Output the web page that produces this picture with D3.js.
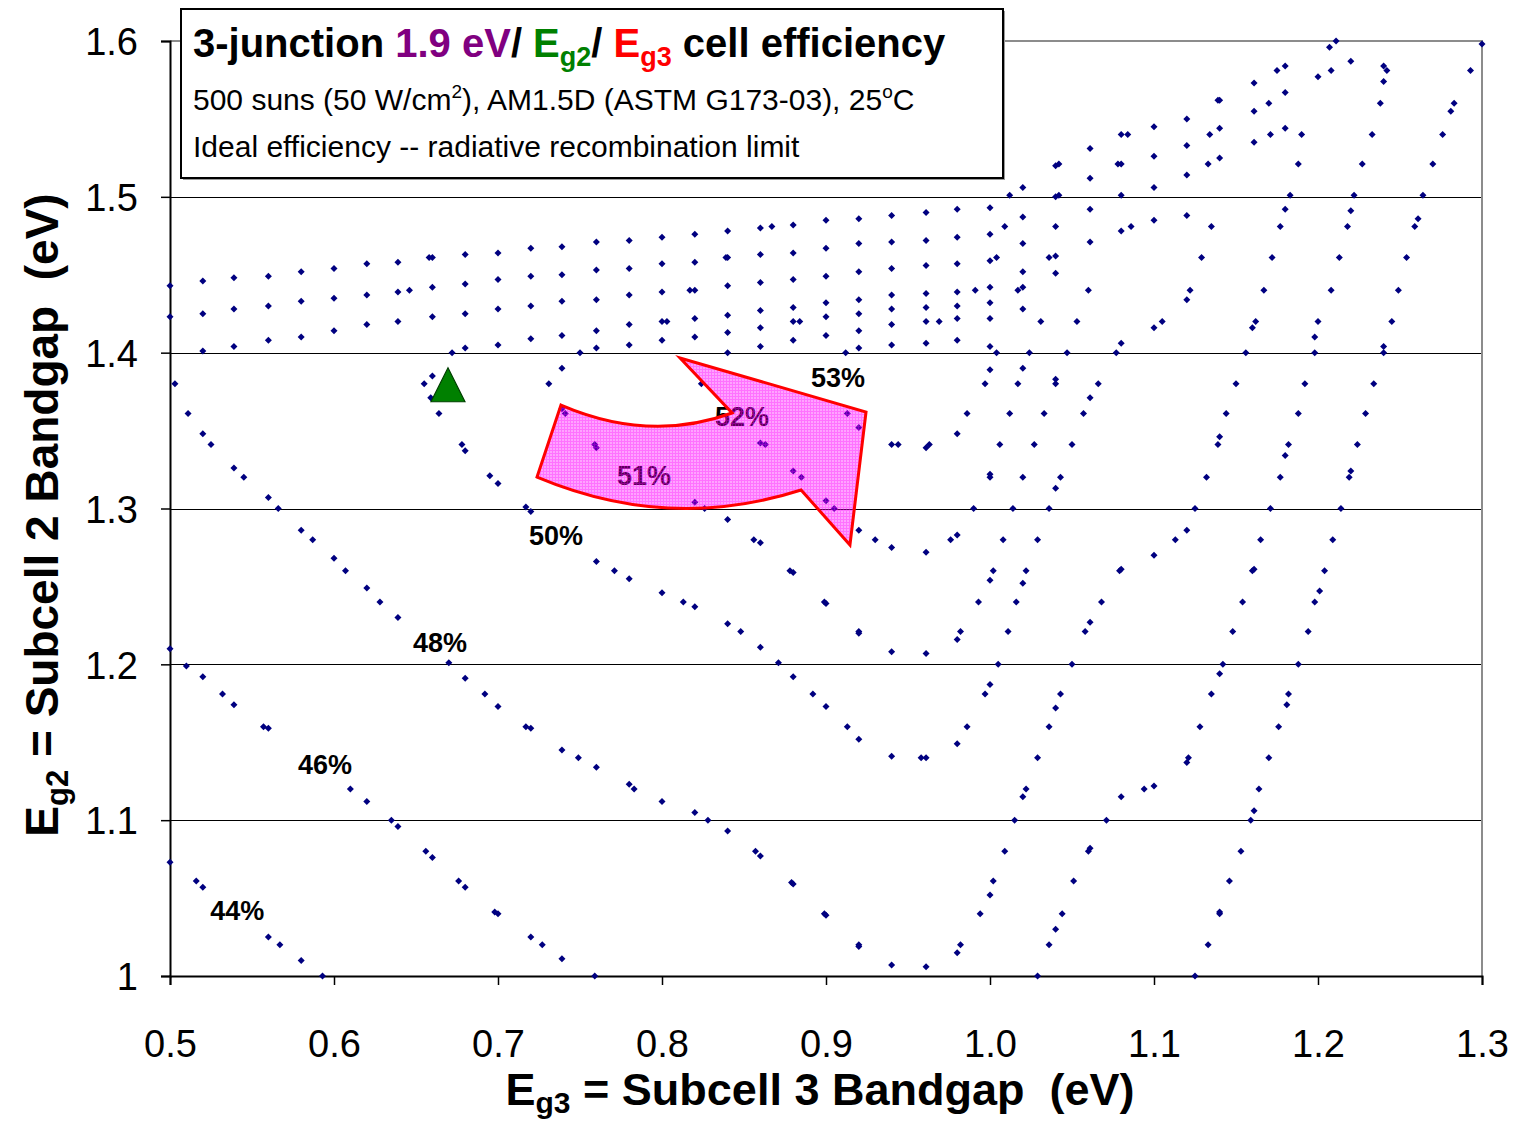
<!DOCTYPE html>
<html>
<head>
<meta charset="utf-8">
<script src="https://cdn.jsdelivr.net/npm/d3@7"></script>
<style>
  body { margin: 0; background: #fff; }
  svg { display: block; }
  text { font-family: "Liberation Sans", Arial, Helvetica, sans-serif; }
</style>
</head>
<body>
<svg id="chart" width="1516" height="1122"></svg>
<script>
// Axis ticks
const xTicks = [0.5, 0.6, 0.7, 0.8, 0.9, 1.0, 1.1, 1.2, 1.3];
const xTickLabels = ["0.5", "0.6", "0.7", "0.8", "0.9", "1.0", "1.1", "1.2", "1.3"];
const yTicks = [1.0, 1.1, 1.2, 1.3, 1.4, 1.5, 1.6];
const yTickLabels = ["1", "1.1", "1.2", "1.3", "1.4", "1.5", "1.6"];

// Iso-efficiency contour points [Eg3, Eg2] in eV
const eff44 = [
  [0.5,1.073],[0.516,1.061],[0.52,1.057],[0.56,1.025],[0.567,1.02],[0.58,1.01],[0.593,1.0],
  [1.125,1.0],[1.133,1.02],[1.14,1.04],[1.14,1.041],[1.146,1.061],[1.153,1.08],[1.159,1.1],[1.161,1.106],
  [1.164,1.12],[1.17,1.14],[1.176,1.16],[1.181,1.174],[1.182,1.181],[1.188,1.2],[1.194,1.221],[1.198,1.24],
  [1.201,1.247],[1.204,1.26],[1.209,1.28],[1.214,1.3],[1.219,1.32],[1.22,1.324],[1.224,1.341],[1.229,1.361],
  [1.234,1.38],[1.24,1.4],[1.24,1.404],[1.245,1.42],[1.249,1.44],[1.254,1.461],[1.259,1.481],[1.261,1.486],
  [1.264,1.501],[1.27,1.521],[1.276,1.54],[1.281,1.555],[1.283,1.56],[1.293,1.581],[1.3,1.598],
  [0.5,1.443],[0.52,1.446],[0.539,1.448],[0.56,1.449],[0.58,1.452],[0.6,1.454],[0.62,1.457],[0.639,1.458],
  [0.658,1.461],[0.66,1.461],[0.68,1.463],[0.7,1.464],[0.72,1.467],[0.739,1.468],[0.76,1.471],[0.78,1.472],
  [0.8,1.474],[0.82,1.476],[0.84,1.478],[0.86,1.48],[0.867,1.481],[0.88,1.482],[0.9,1.485],[0.92,1.486],
  [0.94,1.488],[0.961,1.49],[0.98,1.492],[1.0,1.493],[1.012,1.501],[1.02,1.506],[1.04,1.52],[1.042,1.521],
  [1.061,1.531],[1.08,1.54],[1.084,1.54],[1.1,1.545],[1.12,1.55],[1.139,1.562],[1.14,1.562],[1.161,1.573],
  [1.175,1.581],[1.18,1.584],[1.207,1.596],[1.211,1.6]
];
const eff46 = [
  [0.5,1.21],[0.51,1.199],[0.52,1.192],[0.532,1.181],[0.539,1.174],[0.557,1.16],[0.56,1.159],[0.61,1.12],
  [0.62,1.112],[0.635,1.1],[0.639,1.096],[0.656,1.08],[0.66,1.076],[0.676,1.061],[0.68,1.057],[0.698,1.041],
  [0.7,1.04],[0.72,1.025],[0.727,1.02],[0.739,1.011],[0.759,1.0],
  [1.029,1.0],[1.036,1.02],[1.04,1.03],[1.044,1.04],[1.051,1.061],[1.06,1.08],[1.061,1.082],[1.071,1.1],
  [1.08,1.115],[1.094,1.12],[1.1,1.122],[1.12,1.137],[1.121,1.14],[1.128,1.16],[1.135,1.181],[1.14,1.194],
  [1.142,1.2],[1.148,1.221],[1.154,1.24],[1.16,1.26],[1.161,1.261],[1.165,1.28],[1.171,1.3],[1.177,1.32],
  [1.18,1.334],[1.182,1.341],[1.188,1.361],[1.192,1.38],[1.198,1.4],[1.198,1.41],[1.2,1.42],[1.208,1.44],
  [1.213,1.461],[1.218,1.481],[1.22,1.491],[1.222,1.501],[1.227,1.521],[1.233,1.54],[1.238,1.56],[1.24,1.574],
  [1.242,1.581],[1.24,1.584],[1.22,1.587],
  [1.208,1.581],[1.2,1.577],[1.18,1.567],[1.17,1.56],[1.161,1.555],[1.14,1.544],[1.134,1.54],[1.12,1.533],
  [1.1,1.526],[1.08,1.521],[1.078,1.521],[1.061,1.512],[1.042,1.501],[1.04,1.5],[1.02,1.487],[1.009,1.481],
  [1.0,1.476],[0.98,1.474],[0.961,1.472],[0.94,1.471],[0.92,1.47],[0.9,1.467],[0.88,1.464],[0.86,1.463],
  [0.84,1.461],[0.839,1.461],[0.82,1.458],[0.8,1.457],[0.78,1.454],[0.76,1.453],[0.739,1.45],[0.72,1.449],
  [0.7,1.447],[0.68,1.444],[0.66,1.442],[0.646,1.44],[0.639,1.439],[0.62,1.437],[0.6,1.435],[0.58,1.433],
  [0.56,1.43],[0.539,1.428],[0.52,1.425],[0.5,1.423]
];
const eff48 = [
  [0.503,1.38],[0.511,1.361],[0.52,1.348],[0.525,1.341],[0.539,1.326],[0.545,1.32],[0.56,1.307],[0.566,1.3],
  [0.58,1.286],[0.587,1.28],[0.6,1.268],[0.607,1.26],[0.62,1.249],[0.628,1.24],[0.639,1.23],[0.67,1.201],
  [0.68,1.191],[0.692,1.181],[0.7,1.173],[0.717,1.16],[0.72,1.159],[0.739,1.145],[0.749,1.14],[0.76,1.134],
  [0.78,1.123],[0.783,1.12],[0.8,1.112],[0.82,1.105],[0.828,1.1],[0.84,1.093],[0.857,1.08],[0.86,1.077],
  [0.879,1.06],[0.88,1.059],[0.899,1.04],[0.9,1.039],[0.92,1.02],[0.92,1.019],[0.94,1.007],[0.961,1.006],
  [0.98,1.015],[0.982,1.02],[0.994,1.04],[1.0,1.052],[1.002,1.061],[1.009,1.08],[1.015,1.1],[1.02,1.115],
  [1.022,1.12],[1.029,1.14],[1.036,1.16],[1.04,1.172],[1.043,1.181],[1.05,1.2],[1.058,1.221],[1.061,1.227],
  [1.068,1.24],[1.079,1.26],[1.08,1.261],[1.1,1.27],[1.113,1.28],[1.12,1.286],[1.125,1.3],[1.132,1.32],
  [1.139,1.341],[1.14,1.346],[1.144,1.361],[1.15,1.38],[1.156,1.4],[1.16,1.416],[1.162,1.42],[1.167,1.44],
  [1.172,1.461],[1.177,1.481],[1.18,1.492],[1.183,1.501],[1.188,1.521],[1.19,1.54],[1.18,1.544],[1.171,1.54],
  [1.161,1.535],[1.14,1.525],[1.133,1.521],[1.12,1.514],[1.1,1.506],[1.08,1.501],[1.061,1.492],[1.04,1.481],
  [1.02,1.47],[1.004,1.461],[1.0,1.459],[0.98,1.457],[0.961,1.456],[0.94,1.454],[0.92,1.452],[0.9,1.449],
  [0.88,1.447],[0.86,1.445],[0.84,1.443],[0.82,1.44],[0.817,1.44],[0.8,1.439],[0.78,1.437],[0.76,1.434],
  [0.739,1.433],[0.72,1.43],[0.7,1.428],[0.68,1.425],[0.66,1.423],[0.639,1.42],[0.62,1.418],[0.6,1.414],
  [0.58,1.41],[0.56,1.408],[0.539,1.404],[0.52,1.401]
];
const eff50 = [
  [0.655,1.38],[0.659,1.371],[0.664,1.361],[0.678,1.341],[0.68,1.337],[0.695,1.321],[0.7,1.316],[0.717,1.301],
  [0.72,1.298],[0.76,1.266],[0.771,1.26],[0.78,1.255],[0.8,1.246],[0.813,1.24],[0.82,1.237],[0.84,1.226],
  [0.848,1.221],[0.86,1.211],[0.871,1.201],[0.88,1.192],[0.892,1.181],[0.9,1.173],[0.913,1.16],[0.92,1.152],
  [0.94,1.141],[0.958,1.14],[0.961,1.14],[0.98,1.149],[0.986,1.16],[0.997,1.181],[1.0,1.187],[1.005,1.2],
  [1.011,1.221],[1.016,1.24],[1.02,1.252],[1.022,1.26],[1.029,1.28],[1.036,1.3],[1.04,1.313],[1.043,1.32],
  [1.05,1.341],[1.057,1.361],[1.061,1.371],[1.066,1.38],[1.077,1.4],[1.08,1.406],[1.1,1.416],[1.105,1.42],
  [1.12,1.434],[1.122,1.44],[1.129,1.461],[1.135,1.481],[1.12,1.488],[1.1,1.485],[1.086,1.481],[1.08,1.478],
  [1.061,1.471],[1.04,1.462],[1.036,1.461],[1.02,1.452],[1.0,1.442],[0.991,1.44],[0.98,1.439],[0.961,1.438],
  [0.94,1.437],[0.92,1.434],[0.9,1.432],[0.88,1.429],[0.86,1.427],[0.84,1.424],[0.82,1.422],[0.803,1.42],
  [0.8,1.42],[0.78,1.418],[0.76,1.414],[0.739,1.411],[0.72,1.409],[0.7,1.405],[0.68,1.403],[0.672,1.4],
  [0.66,1.385]
];
const eff51 = [
  [0.731,1.38],[0.739,1.39],[0.75,1.4],[0.76,1.403],[0.78,1.405],[0.8,1.408],[0.82,1.41],[0.84,1.413],
  [0.86,1.416],[0.88,1.42],[0.884,1.42],[0.9,1.423],[0.92,1.425],[0.94,1.428],[0.961,1.429],[0.98,1.43],
  [1.0,1.432],[1.017,1.44],[1.02,1.442],[1.04,1.451],[1.06,1.44],[1.053,1.42],[1.047,1.4],[1.04,1.383],
  [1.04,1.38],[1.033,1.361],[1.027,1.341],[1.02,1.32],[1.014,1.3],[1.008,1.28],[1.002,1.26],[1.0,1.254],
  [0.993,1.24],[0.982,1.221],[0.98,1.216],[0.961,1.207],[0.94,1.208],[0.92,1.22],[0.92,1.221],[0.9,1.239],
  [0.899,1.24],[0.88,1.259],[0.878,1.26],[0.86,1.278],[0.856,1.28],[0.84,1.293],[0.826,1.3],[0.82,1.304],
  [0.76,1.339],[0.759,1.341],[0.741,1.361],[0.739,1.364]
];
const eff52 = [
  [0.824,1.38],[0.84,1.4],[0.86,1.404],[0.88,1.408],[0.9,1.411],[0.92,1.414],[0.94,1.418],[0.961,1.42],
  [0.969,1.42],[0.98,1.422],[1.0,1.422],[1.02,1.428],[1.031,1.42],[1.024,1.4],[1.02,1.39],[1.017,1.38],
  [1.012,1.361],[1.006,1.341],[1.0,1.322],[1.0,1.32],[0.99,1.3],[0.98,1.283],[0.976,1.28],[0.961,1.272],
  [0.94,1.275],[0.93,1.28],[0.92,1.286],[0.905,1.3],[0.9,1.305],[0.885,1.32],[0.88,1.324],[0.863,1.341],
  [0.86,1.342]
];
const eff53 = [
  [0.912,1.4],[0.92,1.403],[0.94,1.405],[0.961,1.406],[0.98,1.408],[1.0,1.404],[1.004,1.4],[1.0,1.389],
  [0.997,1.38],[0.986,1.361],[0.98,1.348],[0.963,1.341],[0.961,1.339],[0.944,1.341],[0.94,1.341],[0.92,1.352],
  [0.913,1.361]
];

// Contour labels: text and anchor point [Eg3, Eg2]
const contourLabels = ["44%", "46%", "48%", "50%", "51%", "52%", "53%"];
const contourLabelPos = [[0.541,1.042],[0.5945,1.136],[0.6646,1.214],[0.7354,1.283],[0.789,1.321],[0.8488,1.359],[0.9073,1.384]];

// Design point (triangle) [Eg3, Eg2]
const designPoint = [0.6695, 1.3762];

// Direction-of-improvement arrow outline [Eg3, Eg2]; "Q" entries are quadratic control points
const arrowOutline = [
  ["M", 0.7238, 1.3202],
  ["L", 0.7384, 1.3664],
  ["Q", 0.7924, 1.342, 0.8427, 1.3613],
  ["L", 0.811, 1.3966],
  ["L", 0.9244, 1.3619],
  ["L", 0.9146, 1.2766],
  ["L", 0.8848, 1.3119],
  ["Q", 0.8043, 1.2846, 0.7238, 1.3202]
];

const W = 1516, H = 1122;
const svg = d3.select("#chart");
svg.append("rect").attr("width", W).attr("height", H).attr("fill", "#fff");

const x = d3.scaleLinear().domain([0.5, 1.3]).range([170, 1482]);
const y = d3.scaleLinear().domain([1.0, 1.6]).range([976, 41]);

// translucent magenta grid pattern for the arrow fill
const defs = svg.append("defs");
const pat = defs.append("pattern").attr("id", "grid").attr("patternUnits", "userSpaceOnUse")
  .attr("width", 3).attr("height", 3);
pat.append("rect").attr("width", 3).attr("height", 3).attr("fill", "#ff00ff").attr("fill-opacity", 0.36);
pat.append("path").attr("d", "M0,0.5H3M0.5,1V3").attr("stroke", "#ff00ff").attr("stroke-opacity", 0.3).attr("stroke-width", 1);

// gridlines
const g = svg.append("g");
g.selectAll("line.grid").data(yTicks.filter(v => v > 1.0 && v < 1.6)).join("line")
  .attr("class", "grid")
  .attr("x1", x(0.5)).attr("x2", x(1.3))
  .attr("y1", d => Math.round(y(d)) + 0.5).attr("y2", d => Math.round(y(d)) + 0.5)
  .attr("stroke", "#000").attr("stroke-width", 1);

// plot frame: grey top/right, black axes
g.append("path")
  .attr("d", `M${x(0.5)},${y(1.6)}H${x(1.3)}V${y(1.0)}`)
  .attr("fill", "none").attr("stroke", "#8c8c8c").attr("stroke-width", 2);

// axes
const xAxis = d3.axisBottom(x).tickValues(xTicks).tickSize(9).tickFormat((d, i) => xTickLabels[i]);
const yAxis = d3.axisLeft(y).tickValues(yTicks).tickSize(9).tickFormat((d, i) => yTickLabels[i]);

const gx = svg.append("g").attr("transform", `translate(0,${y(1.0)})`).call(xAxis);
const gy = svg.append("g").attr("transform", `translate(${x(0.5)},0)`).call(yAxis);
[gx, gy].forEach(a => {
  a.select(".domain").attr("stroke", "#000").attr("stroke-width", 2);
  a.selectAll(".tick line").attr("stroke", "#000").attr("stroke-width", 1.5);
  a.selectAll(".tick text").attr("fill", "#000").style("font-size", "38px")
    .style("font-family", '"Liberation Sans", Arial, sans-serif');
});
gx.selectAll(".tick text").attr("dy", "0").attr("y", 81);
gy.selectAll(".tick text").attr("x", -32).attr("dy", "0.36em");

// contour dots
const diamond = { draw(ctx, size) { const r = Math.sqrt(size) / 2; ctx.moveTo(0, -r); ctx.lineTo(r, 0); ctx.lineTo(0, r); ctx.lineTo(-r, 0); ctx.closePath(); } };
const series = [eff44, eff46, eff48, eff50, eff51, eff52, eff53];
const dots = svg.append("g");
series.forEach(s => {
  dots.append("g").selectAll("path").data(s).join("path")
    .attr("transform", d => `translate(${x(d[0])},${y(d[1])})`)
    .attr("d", d3.symbol(diamond, 49))
    .attr("fill", "#000080");
});

// contour labels
svg.append("g").selectAll("text").data(contourLabels).join("text")
  .attr("x", (d, i) => x(contourLabelPos[i][0]))
  .attr("y", (d, i) => y(contourLabelPos[i][1]))
  .attr("dy", "0.36em")
  .attr("text-anchor", "middle")
  .style("font-size", "27px").style("font-weight", "bold")
  .attr("fill", "#000")
  .text(d => d);

// design point triangle
const tx = x(designPoint[0]), ty = y(designPoint[1]);
svg.append("path")
  .attr("d", `M${tx},${ty - 22}L${tx + 17},${ty + 12}L${tx - 17},${ty + 12}Z`)
  .attr("fill", "#008000").attr("stroke", "#004000").attr("stroke-width", 1.2);

// arrow
const ap = d3.path();
arrowOutline.forEach(c => {
  if (c[0] === "M") ap.moveTo(x(c[1]), y(c[2]));
  else if (c[0] === "L") ap.lineTo(x(c[1]), y(c[2]));
  else ap.quadraticCurveTo(x(c[1]), y(c[2]), x(c[3]), y(c[4]));
});
ap.closePath();
svg.append("path").attr("d", ap.toString())
  .attr("fill", "url(#grid)")
  .attr("stroke", "#ff0000").attr("stroke-width", 3).attr("stroke-linejoin", "miter");

// axis titles
const xt = svg.append("text").attr("x", 820).attr("y", 1105).attr("text-anchor", "middle")
  .style("font-size", "45px").style("font-weight", "bold");
xt.append("tspan").text("E");
xt.append("tspan").attr("dy", 8).style("font-size", "30px").text("g3");
xt.append("tspan").attr("dy", -8).text(" = Subcell 3 Bandgap\u00a0 (eV)");

const yt = svg.append("text").attr("transform", "translate(58,515) rotate(-90)").attr("text-anchor", "middle")
  .style("font-size", "46px").style("font-weight", "bold");
yt.append("tspan").text("E");
yt.append("tspan").attr("dy", 10).style("font-size", "31px").text("g2");
yt.append("tspan").attr("dy", -10).text(" = Subcell 2 Bandgap\u00a0 (eV)");

// title box
svg.append("rect").attr("x", 183).attr("y", 11).attr("width", 822).attr("height", 169).attr("fill", "#9a9a9a");
svg.append("rect").attr("x", 181).attr("y", 9).attr("width", 822).attr("height", 169)
  .attr("fill", "#fff").attr("stroke", "#000").attr("stroke-width", 2);

const t1 = svg.append("text").attr("x", 193).attr("y", 57).style("font-size", "40px").style("font-weight", "bold");
t1.append("tspan").text("3-junction ");
t1.append("tspan").attr("fill", "#800080").text("1.9 eV");
t1.append("tspan").text("/ ");
t1.append("tspan").attr("fill", "#008000").text("E");
t1.append("tspan").attr("fill", "#008000").attr("dy", 9).style("font-size", "27px").text("g2");
t1.append("tspan").attr("dy", -9).text("/ ");
t1.append("tspan").attr("fill", "#ff0000").text("E");
t1.append("tspan").attr("fill", "#ff0000").attr("dy", 9).style("font-size", "27px").text("g3");
t1.append("tspan").attr("dy", -9).text(" cell efficiency");

const t2 = svg.append("text").attr("x", 193).attr("y", 110).style("font-size", "30px");
t2.append("tspan").text("500 suns (50 W/cm");
t2.append("tspan").attr("dy", -12).style("font-size", "19px").text("2");
t2.append("tspan").attr("dy", 12).text("), AM1.5D (ASTM G173-03), 25");
t2.append("tspan").attr("dy", -12).style("font-size", "19px").text("o");
t2.append("tspan").attr("dy", 12).text("C");

svg.append("text").attr("x", 193).attr("y", 157).style("font-size", "30px")
  .text("Ideal efficiency -- radiative recombination limit");
</script>
</body>
</html>
